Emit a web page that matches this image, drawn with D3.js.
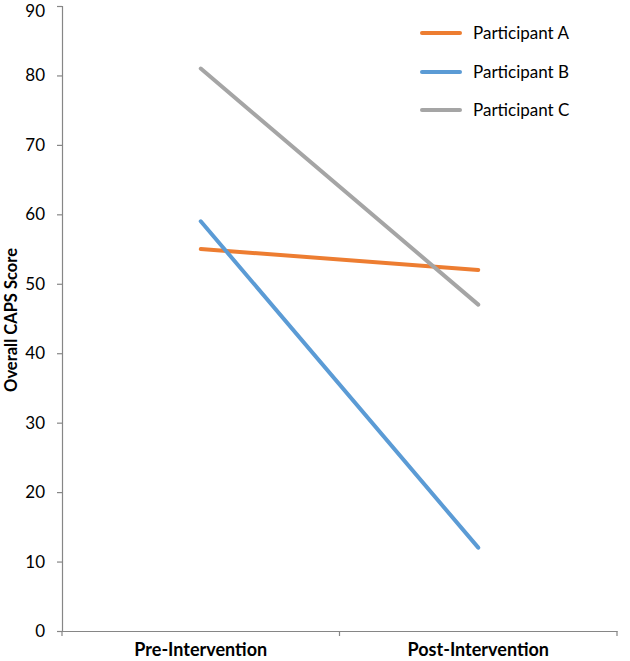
<!DOCTYPE html>
<html><head><meta charset="utf-8">
<script src="https://cdn.jsdelivr.net/npm/d3@7"></script>
<style>body{margin:0;background:#fff}svg{display:block}</style>
</head><body>
<script>
const categories = ["Pre-Intervention", "Post-Intervention"];
const seriesNames = ["Participant A", "Participant B", "Participant C"];
const participantA = [55, 52];
const participantB = [59, 12];
const participantC = [81, 47];
const colors = ["#ED7D31", "#5B9BD5", "#A5A5A5"];
const yTicks = [0,10,20,30,40,50,60,70,80,90];
const yTitle = "Overall CAPS Score";

(function(){
const W = 630, H = 661;
const mLeft = 62, mRight = 617, mTop = 6, mBottom = 631;
const font = "Lato, 'Open Sans', sans-serif";

const svg = d3.select("body").append("svg").attr("width", W).attr("height", H);
const x = d3.scalePoint().domain(categories).range([mLeft, mRight]).padding(0.5);
const xb = d3.scaleBand().domain(categories).range([mLeft, mRight]);
const y = d3.scaleLinear().domain([0, 90]).range([mBottom, mTop]);

const ya = svg.append("g").attr("transform", `translate(${mLeft},0)`)
  .call(d3.axisLeft(y).tickValues(yTicks).tickSize(5).tickPadding(12).tickFormat(d3.format("d")));
ya.select(".domain").attr("stroke", "#868686").attr("stroke-width", 1.2);
ya.selectAll(".tick line").attr("stroke", "#868686").attr("stroke-width", 1.2);
ya.selectAll("text").attr("font-family", font).attr("font-size", 17).attr("fill", "#000");
ya.selectAll(".tick").filter(d => d === 90).select("text").attr("dy", "0.62em");

const xa = svg.append("g").attr("transform", `translate(0,${mBottom})`)
  .call(d3.axisBottom(xb).tickSize(0).tickPadding(12));
xa.select(".domain").attr("stroke", "#868686").attr("stroke-width", 1.2);
xa.selectAll("text").attr("font-family", font).attr("font-size", 18).attr("font-weight", "bold").attr("fill", "#000");
const bounds = [mLeft, mLeft + xb.bandwidth(), mRight];
xa.selectAll(".bt").data(bounds).enter().append("line").attr("class","bt")
  .attr("x1", d => d).attr("x2", d => d).attr("y1", 0).attr("y2", 5)
  .attr("stroke", "#868686").attr("stroke-width", 1.2);

svg.append("text").attr("transform", `translate(17,${320}) rotate(-90)`)
  .attr("text-anchor", "middle").attr("font-family", font).attr("font-size", 16.5)
  .attr("font-weight", "bold").text(yTitle);

const data = [participantA, participantB, participantC];
const line = d3.line().x((d, i) => x(categories[i])).y(d => y(d));
svg.selectAll(".series").data(data).enter().append("path").attr("class","series")
  .attr("d", d => line(d)).attr("fill", "none")
  .attr("stroke", (d, i) => colors[i]).attr("stroke-width", 4).attr("stroke-linecap", "round");

const lg = svg.append("g");
const ly = [33, 72, 110];
seriesNames.forEach((n, i) => {
  lg.append("line").attr("x1", 422).attr("x2", 460).attr("y1", ly[i]).attr("y2", ly[i])
    .attr("stroke", colors[i]).attr("stroke-width", 4).attr("stroke-linecap", "round");
  lg.append("text").attr("x", 473).attr("y", ly[i]).attr("dy", "0.35em")
    .attr("font-family", font).attr("font-size", 17).text(n);
});
})();
</script>
</body></html>
